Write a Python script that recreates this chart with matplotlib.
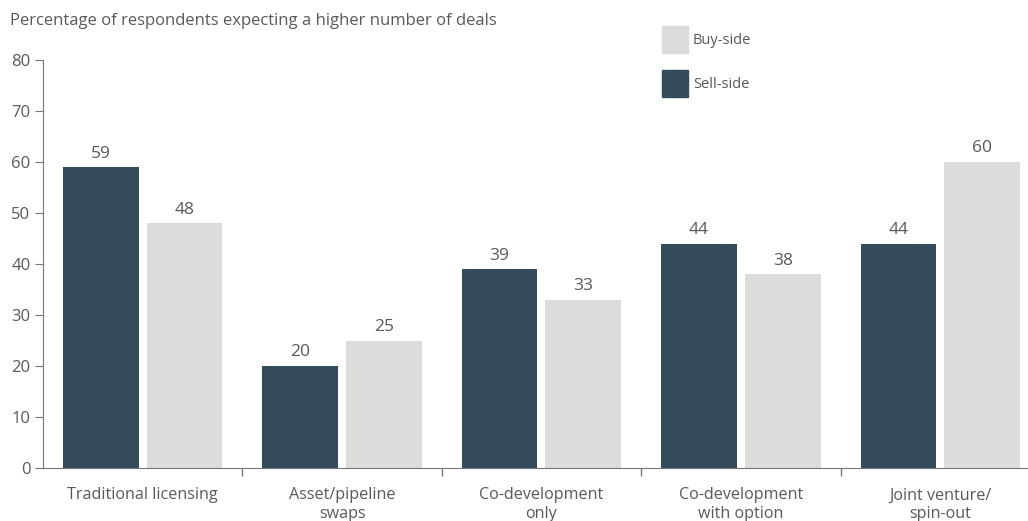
import matplotlib
matplotlib.use('Agg')
import matplotlib.pyplot as plt
from matplotlib.patches import Rectangle
import numpy as np

# data
categories = ['Traditional licensing', 'Asset/pipeline\nswaps', 'Co-development\nonly',
              'Co-development\nwith option', 'Joint venture/\nspin-out']
sell_side = [59, 20, 39, 44, 44]
buy_side = [48, 25, 33, 38, 60]

dark = '#344b5b'
light = '#dcdcdb'
txt = '#595959'

plt.rcParams['font.family'] = ['Open Sans', 'DejaVu Sans']
plt.rcParams['font.size'] = 11

W, H = 1028, 521
fig = plt.figure(figsize=(W / 100, H / 100), dpi=100)
ax = fig.add_axes([43 / W, 1 - 468 / H, 1 - 43 / W, 408 / H])

x = np.arange(len(categories))
w = 0.38
b1 = ax.bar(x - 0.21, sell_side, w, color=dark, label='Sell-side')
b2 = ax.bar(x + 0.21, buy_side, w, color=light, label='Buy-side')

for bars, vals in ((b1, sell_side), (b2, buy_side)):
    for r, v in zip(bars, vals):
        ax.annotate(str(v), (r.get_x() + r.get_width() / 2, v), xytext=(0, 4),
                    textcoords='offset points', ha='center', va='bottom',
                    color=txt, fontsize=12.5)

ax.set_xlim(-0.5, 4.44)
ax.set_ylim(0, 80)
ax.set_yticks(range(0, 81, 10))
ax.set_xticks(x)
ax.set_xticklabels(categories, color=txt, fontsize=11.6, linespacing=1.2)
ax.set_xticks(np.arange(0.5, 4, 1), minor=True)
ax.tick_params(axis='x', which='major', length=0, pad=14)
ax.tick_params(axis='x', which='minor', length=6, color='#777777', width=1)
ax.tick_params(axis='y', length=6, color='#777777', labelcolor=txt, labelsize=12, pad=3)

for s in ('top', 'right'):
    ax.spines[s].set_visible(False)
for s in ('left', 'bottom'):
    ax.spines[s].set_color('#777777')

fig.text(10 / W, 1 - 21 / H, 'Percentage of respondents expecting a higher number of deals',
         color=txt, fontsize=12, va='center')

# legend drawn by hand
for top, col, lab in ((26, light, 'Buy-side'), (70, dark, 'Sell-side')):
    fig.add_artist(Rectangle((662 / W, 1 - (top + 27) / H), 26 / W, 27 / H,
                             transform=fig.transFigure, color=col))
    fig.text(693 / W, 1 - (top + 14) / H, lab, color=txt, fontsize=10.5, va='center')

plt.savefig('out.png', dpi=100)
plt.close()
